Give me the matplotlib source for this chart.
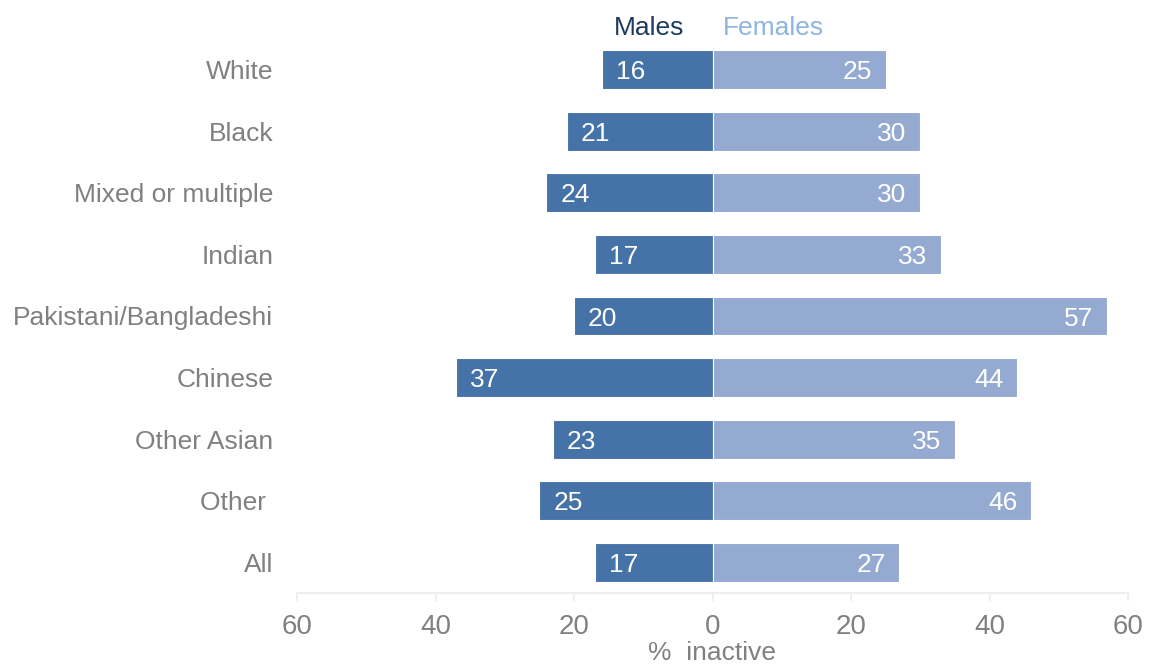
import numpy as np
import matplotlib.pyplot as plt

groups = ["White", "Black", "Mixed or multiple", "Indian", "Pakistani/Bangladeshi",
          "Chinese", "Other Asian", "Other ", "All"]
males = [16, 21, 24, 17, 20, 37, 23, 25, 17]
females = [25, 30, 30, 33, 57, 44, 35, 46, 27]
ticks = [-60, -40, -20, 0, 20, 40, 60]
tick_labels = ["60", "40", "20", "0", "20", "40", "60"]

male_col = "#4572a7"
female_col = "#95aad1"
grey = "#808080"
fs = 19

plt.rcParams['font.family'] = ['Liberation Sans', 'DejaVu Sans']

fig = plt.figure(figsize=(11.52, 6.65), dpi=100)
ax = fig.add_axes([297 / 1152, 1 - 593 / 665, 831 / 1152, 554 / 665])

y = np.arange(len(groups))
h = 0.63
ax.barh(y, [-m for m in males], height=h, color=male_col, edgecolor="white", linewidth=0.8)
ax.barh(y, females, height=h, color=female_col, edgecolor="white", linewidth=0.8)

for yi, m, f in zip(y, males, females):
    ax.text(-m + 2.0, yi, str(m), color="white", fontsize=fs, ha="left", va="center_baseline")
    ax.text(f - 2.0, yi, str(f), color="white", fontsize=fs, ha="right", va="center_baseline")

ax.set_xlim(-60, 60)
ax.set_ylim(len(groups) - 0.5, -0.5)
ax.set_yticks(y)
ax.set_yticklabels(groups, fontsize=fs, color=grey)
ax.set_xticks(ticks)
ax.set_xticklabels(tick_labels, fontsize=fs + 1, color=grey)
ax.tick_params(axis="y", length=0, pad=17)
ax.tick_params(axis="x", length=6, width=1.2, color="#ebebeb", pad=9)
ax.set_xlabel("%  inactive", fontsize=fs, color=grey, labelpad=1)
for s in ["top", "right", "left"]:
    ax.spines[s].set_visible(False)
ax.spines["bottom"].set_color("#ebebeb")
ax.spines["bottom"].set_linewidth(1.2)

fig.text(684 / 1152, 1 - 28 / 665, "Males", color="#1f3a60", fontsize=fs, ha="right", va="center")
fig.text(723 / 1152, 1 - 28 / 665, "Females", color="#8db4e2", fontsize=fs, ha="left", va="center")

fig.savefig("out.png", dpi=100)
